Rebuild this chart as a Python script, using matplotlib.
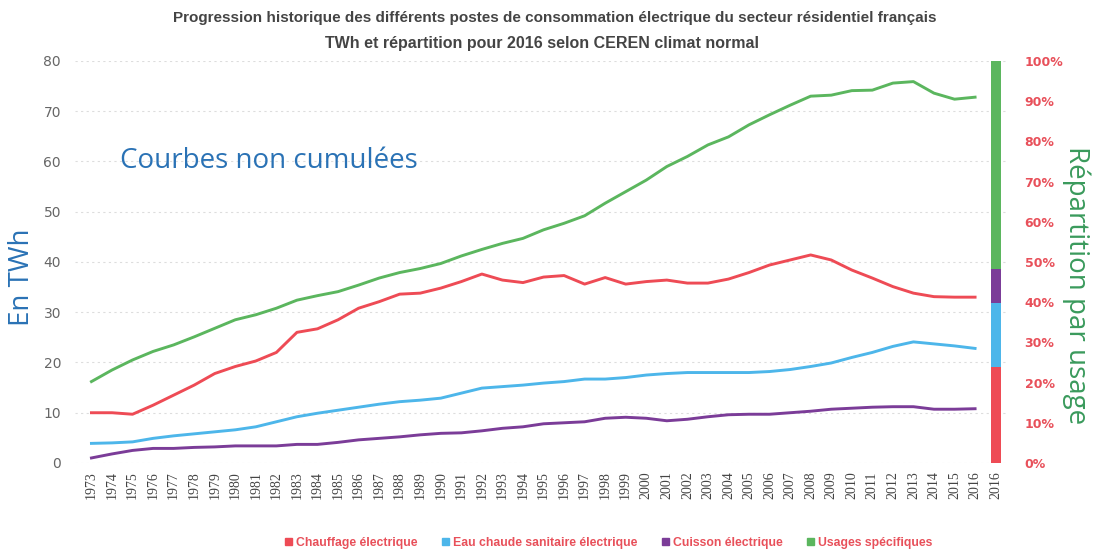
import matplotlib
matplotlib.use("Agg")
import matplotlib.pyplot as plt
from matplotlib.patches import Patch

# data (TWh, climat normal)
years = list(range(1973, 2017))

chauffage = [10.0, 10.0, 9.7, 11.5, 13.5, 15.5, 17.8, 19.2, 20.3, 22.0,
             26.0, 26.7, 28.5, 30.8, 32.1, 33.6, 33.8, 34.8, 36.1, 37.6,
             36.4, 35.9, 37.0, 37.3, 35.6, 36.9, 35.6, 36.1, 36.4, 35.8,
             35.8, 36.6, 37.9, 39.4, 40.4, 41.4, 40.4, 38.4, 36.8, 35.1,
             33.8, 33.1, 33.0, 33.0]
eau_chaude = [3.9, 4.0, 4.2, 4.9, 5.4, 5.8, 6.2, 6.6, 7.2, 8.2,
              9.2, 9.9, 10.5, 11.1, 11.7, 12.2, 12.5, 12.9, 13.9, 14.9,
              15.2, 15.5, 15.9, 16.2, 16.7, 16.7, 17.0, 17.5, 17.8, 18.0,
              18.0, 18.0, 18.0, 18.2, 18.6, 19.2, 19.9, 21.0, 22.0, 23.2,
              24.1, 23.7, 23.3, 22.8]
cuisson = [1.0, 1.8, 2.5, 2.9, 2.9, 3.1, 3.2, 3.4, 3.4, 3.4,
           3.7, 3.7, 4.1, 4.6, 4.9, 5.2, 5.6, 5.9, 6.0, 6.4,
           6.9, 7.2, 7.8, 8.0, 8.2, 8.9, 9.1, 8.9, 8.4, 8.7,
           9.2, 9.6, 9.7, 9.7, 10.0, 10.3, 10.7, 10.9, 11.1, 11.2,
           11.2, 10.7, 10.7, 10.8]
usages = [16.2, 18.5, 20.5, 22.2, 23.5, 25.1, 26.8, 28.5, 29.5, 30.8,
          32.4, 33.3, 34.1, 35.4, 36.8, 37.9, 38.7, 39.7, 41.2, 42.5,
          43.7, 44.7, 46.4, 47.7, 49.2, 51.7, 54.0, 56.3, 59.0, 61.0,
          63.3, 64.9, 67.3, 69.3, 71.2, 73.0, 73.2, 74.1, 74.2, 75.6,
          75.9, 73.6, 72.4, 72.8]

# 2016 split in % (stacked bar on the right axis)
parts_2016 = [23.8, 15.9, 8.5, 51.8]

labels = ["Chauffage électrique", "Eau chaude sanitaire électrique",
          "Cuisson électrique", "Usages spécifiques"]
colors = ["#EE4B55", "#4DB6EA", "#7B3C98", "#5BB65E"]

tick_labels = [str(y) for y in years] + ["2016"]

fig = plt.figure(figsize=(10.95, 5.55), dpi=100)
ax = fig.add_axes([0.0685, 0.1658, 0.852, 0.7243])

x = list(range(len(years)))
for serie, c in zip([chauffage, eau_chaude, cuisson, usages], colors):
    ax.plot(x, serie, color=c, lw=2.1, solid_joinstyle="round")

ax.set_xlim(-0.8, 44.6)
ax.set_ylim(0, 80)
ax.set_yticks(range(0, 81, 10))
ax.set_xticks(range(len(tick_labels)))
ax.set_xticklabels(tick_labels, rotation=90, fontsize=10,
                   family="Liberation Serif", color="#444444")
ax.tick_params(axis="y", length=0, labelsize=10, labelcolor="#666666", pad=10)
ax.tick_params(axis="x", length=0, pad=6)
ax.grid(axis="y", color="#dddddd", lw=0.8, ls=(0, (2, 3)))
for s in ax.spines.values():
    s.set_visible(False)

# right axis: share of each use in 2016
ax2 = ax.twinx()
ax2.set_ylim(0, 100)
ax2.set_yticks(range(0, 101, 10))
ax2.set_yticklabels([f"{v}%" for v in range(0, 101, 10)])
ax2.tick_params(axis="y", length=0, labelsize=9, labelcolor="#E8505A", pad=12)
for lab in ax2.get_yticklabels():
    lab.set_fontweight("bold")
bottom = 0
for share, c in zip(parts_2016, colors):
    ax2.bar(44, share, bottom=bottom, width=0.49, color=c, lw=0)
    bottom += share
for s in ax2.spines.values():
    s.set_visible(False)

fig.text(0.507, 0.967,
         "Progression historique des différents postes de consommation électrique du secteur résidentiel français",
         ha="center", va="center", fontsize=11, fontweight="bold",
         family="Liberation Sans", color="#444444")
fig.text(0.495, 0.922, "TWh et répartition pour 2016 selon CEREN climat normal",
         ha="center", va="center", fontsize=11.5, fontweight="bold",
         family="Liberation Sans", color="#444444")

fig.text(0.11, 0.71, "Courbes non cumulées", fontsize=20, color="#2A72B5",
         family="Open Sans", va="center")
fig.text(0.02, 0.50, "En TWh", rotation=90, fontsize=20, color="#2A72B5",
         family="Open Sans", ha="center", va="center")
fig.text(0.983, 0.487, "Répartition par usage", rotation=270, fontsize=20,
         color="#3A9A5C", family="Open Sans", ha="center", va="center")

handles = [Patch(color=c) for c in colors]
leg = fig.legend(handles, labels, loc="center", bbox_to_anchor=(0.556, 0.022),
                 ncol=4, frameon=False, handlelength=0.6,
                 handleheight=0.6, handletextpad=0.3, columnspacing=2.0,
                 prop={"family": "Liberation Sans", "weight": "bold", "size": 8.8})
for t in leg.get_texts():
    t.set_color("#E8505A")

fig.savefig("out.png", dpi=100)
